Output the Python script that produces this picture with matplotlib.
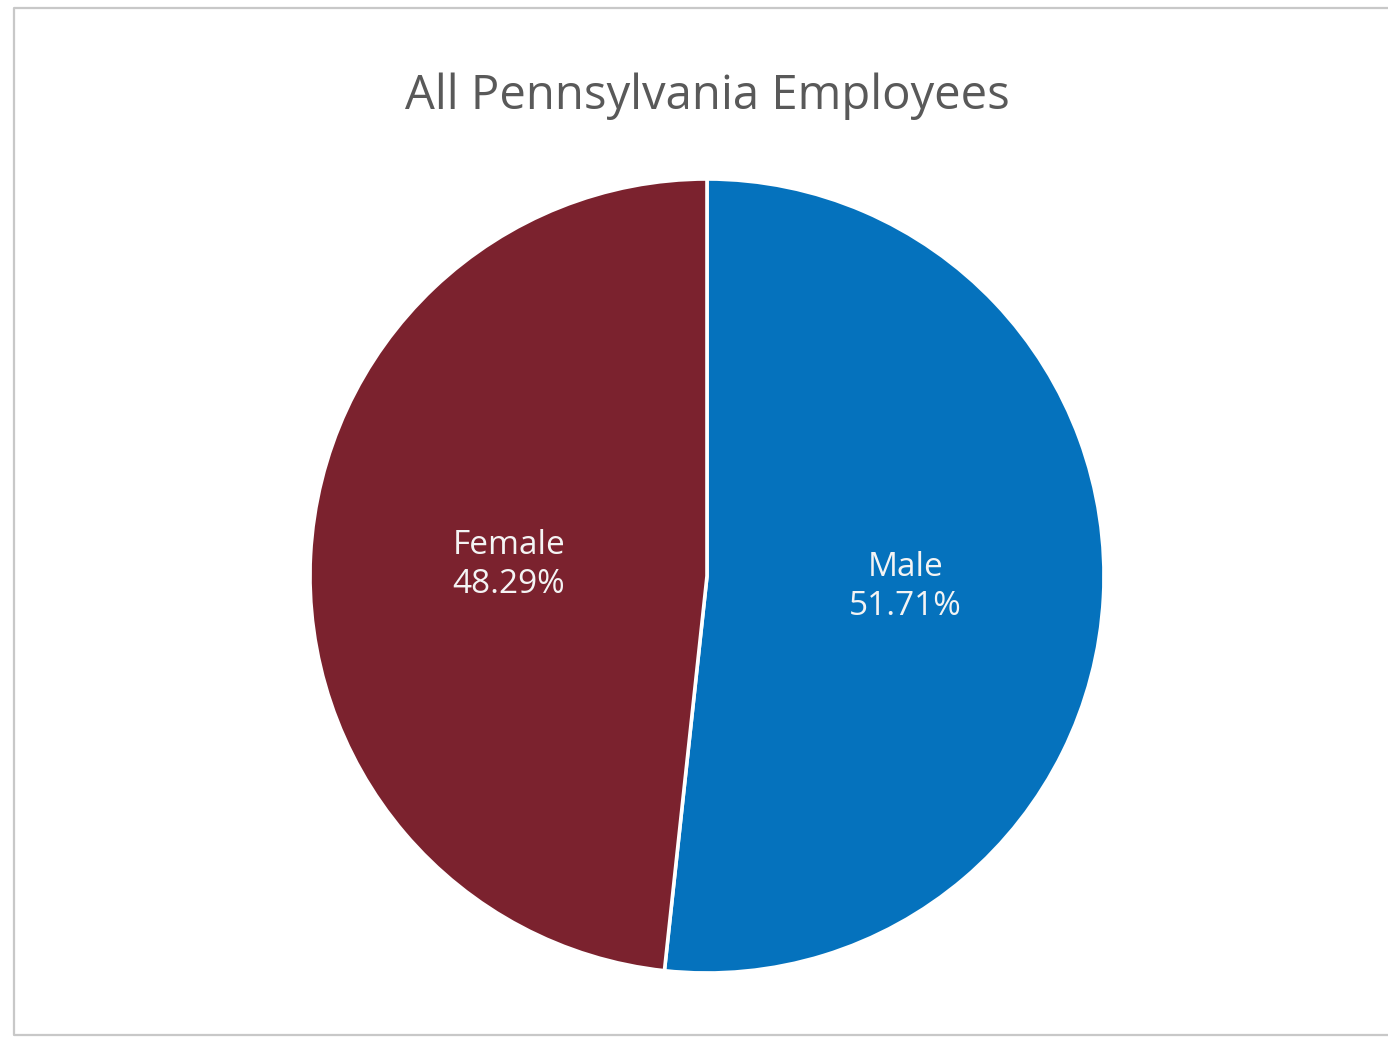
import matplotlib
matplotlib.use("Agg")
import matplotlib.pyplot as plt
from matplotlib.lines import Line2D

plt.rcParams['font.family'] = ['Open Sans', 'DejaVu Sans']

groups = ['Male', 'Female']
shares = [51.71, 48.29]
colors = ['#0572BD', '#7B222E']
title = 'All Pennsylvania Employees'

fig = plt.figure(figsize=(13.88, 10.39), dpi=100)
fig.patch.set_facecolor('white')

# chart frame: left, top and bottom edges only
x0, y0, y1 = 14 / 1388, 4 / 1039, 1 - 8 / 1039
fig.lines.append(Line2D([1.0, x0, x0, 1.0], [y1, y1, y0, y0],
                        transform=fig.transFigure, color='#c8c8c8', linewidth=1.6))

ax = fig.add_axes([310 / 1388, 66 / 1039, 794 / 1388, 794 / 1039])


def label_fmt(pct):
    idx = min(range(len(shares)), key=lambda i: abs(shares[i] - pct))
    return f'{groups[idx]}\n{shares[idx]:.2f}%'


wedges, texts, autotexts = ax.pie(shares, colors=colors, startangle=90,
                                  counterclock=False, autopct=label_fmt,
                                  pctdistance=0.5, radius=1,
                                  wedgeprops=dict(edgecolor='white', linewidth=2.6))
for t in autotexts:
    t.set_color('#f4f4f4')
    t.set_fontsize(24)
    t.set_linespacing(1.25)

ax.set_xlim(-1, 1)
ax.set_ylim(-1, 1)
ax.set_aspect('equal')
ax.axis('off')

fig.text(707 / 1388, 1 - 96 / 1039, title, ha='center', va='center',
         fontsize=34, color='#595959')

fig.savefig('out.png', dpi=100)
